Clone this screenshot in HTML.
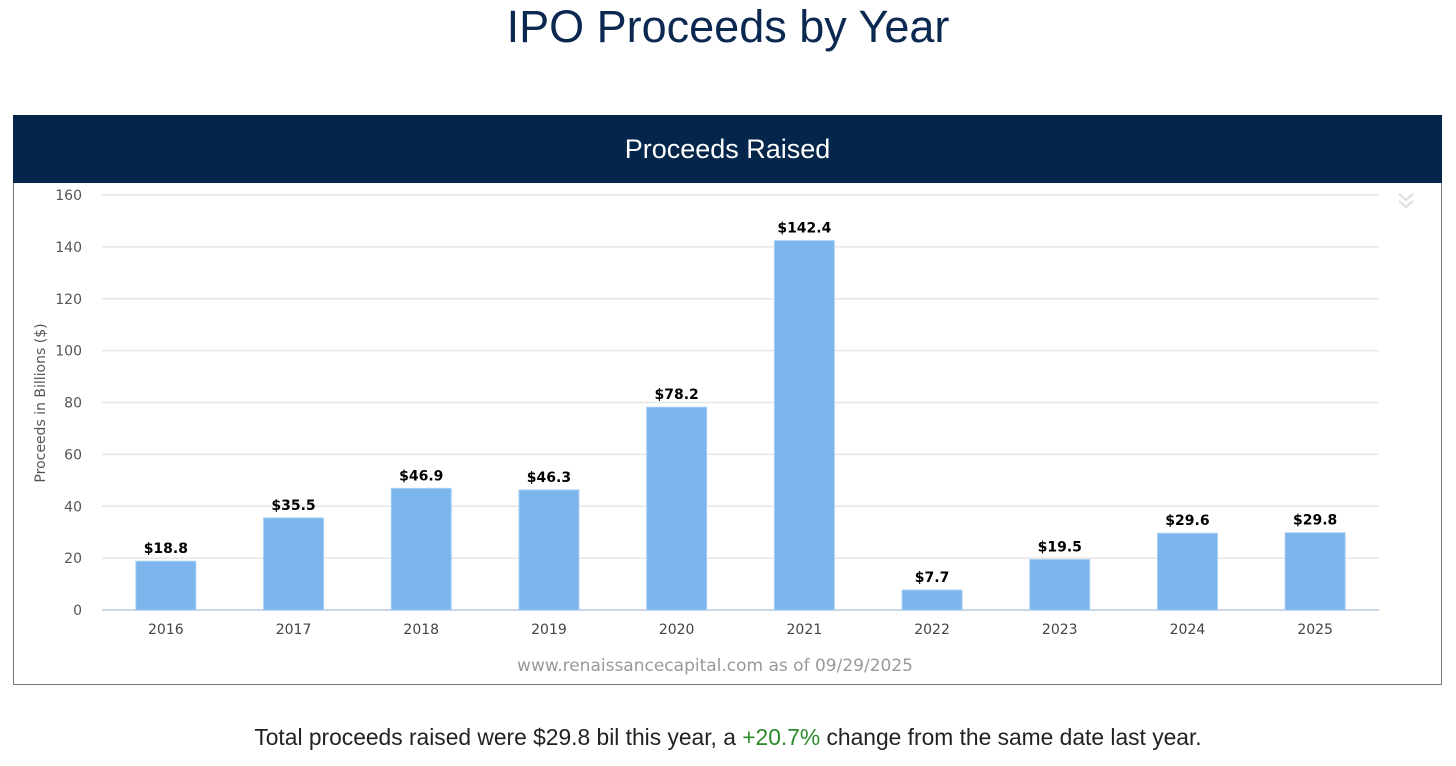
<!DOCTYPE html>
<html><head><meta charset="utf-8"><style>
body{margin:0;background:#fff;font-family:"Liberation Sans",sans-serif;width:1456px;height:766px;overflow:hidden;position:relative}
#title{position:absolute;top:1px;left:0;width:1456px;text-align:center;font-size:45px;color:#0b2850}
#box{position:absolute;left:13px;top:115px;width:1427px;height:569px;border:1px solid #777;border-top:none}
#hdr{position:absolute;left:13px;top:115px;width:1429px;height:68px;background:#03264a;color:#fff;font-size:27px;text-align:center;line-height:68px}
#foot{position:absolute;top:724px;left:0;width:1456px;text-align:center;font-size:22.8px;color:#222}
svg{position:absolute;left:0;top:0}
</style></head><body>
<div id="title">IPO Proceeds by Year</div>
<div id="box"></div>
<div id="hdr">Proceeds Raised</div>
<svg id="chart" width="1456" height="766"></svg>
<div id="foot">Total proceeds raised were $29.8 bil this year, a <span style="color:#2a8a2a">+20.7%</span> change from the same date last year.</div>
<script>
const categories=["2016","2017","2018","2019","2020","2021","2022","2023","2024","2025"];
const values=[18.8,35.5,46.9,46.3,78.2,142.4,7.7,19.5,29.6,29.8];
const ticks=[0,20,40,60,80,100,120,140,160];
const svg=document.getElementById('chart');
const NS='http://www.w3.org/2000/svg';
const x0=102,x1=1379,y0=610,yTop=195,yMax=160;
const y=v=>y0-(v/yMax)*(y0-yTop);
const bw=(x1-x0)/categories.length;
const xc=i=>x0+bw*(i+0.5);
function el(t,a,txt){const e=document.createElementNS(NS,t);for(const k in a)e.setAttribute(k,a[k]);if(txt!=null)e.textContent=txt;svg.appendChild(e);return e;}
ticks.forEach(t=>{
 const g=el('line',{x1:x0,x2:x1,y1:y(t),y2:y(t),stroke:t===0?'#ccd6eb':'#e6e6e6','stroke-width':t===0?2:1.5});
 
 
 const l=el('text',{x:82,y:y(t)+5,'text-anchor':'end','font-size':14,fill:'#555','font-family':'DejaVu Sans, sans-serif'},t);
 
 
});
categories.forEach((c,i)=>{
 const r=el('rect',{x:xc(i)-30,y:y(values[i]),width:60,height:y0-y(values[i]),fill:'#7cb5ec',stroke:'#a8d0f5','stroke-width':1});
 
 
 const v=el('text',{x:xc(i),y:y(values[i])-8,'text-anchor':'middle','font-size':14,'font-weight':'bold',fill:'#000','font-family':'DejaVu Sans, sans-serif'},'$'+values[i].toFixed(1));
 
 
 const l=el('text',{x:xc(i),y:634,'text-anchor':'middle','font-size':14,fill:'#444','font-family':'DejaVu Sans, sans-serif'},c);
 
 
});
const yt=el('text',{transform:'translate(45,403) rotate(-90)','text-anchor':'middle','font-size':14,fill:'#555','font-family':'DejaVu Sans, sans-serif'},'Proceeds in Billions ($)');


const cr=el('text',{x:715,y:671,'text-anchor':'middle','font-size':17,fill:'#999','font-family':'DejaVu Sans, sans-serif'},'www.renaissancecapital.com as of 09/29/2025');


const ch=el('path',{d:'M1399,194 l7,6 l7,-6 M1399,201 l7,6 l7,-6',fill:'none',stroke:'#ddd','stroke-width':2});


</script>
</body></html>
